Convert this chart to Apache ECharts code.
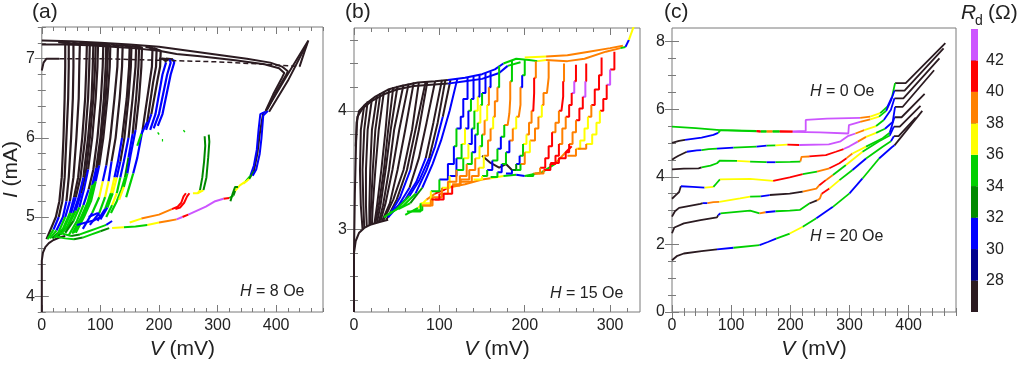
<!DOCTYPE html>
<html><head><meta charset="utf-8">
<script src="https://cdn.jsdelivr.net/npm/echarts@6/dist/echarts.min.js"></script>
<style>html,body{margin:0;padding:0;background:#fff}#c{width:1024px;height:367px}</style>
</head><body><div id="c"></div><script>
// ---------- colour scale (R_d in ohm) ----------
const rdEdges = [26,28,30,32,34,36,38,40,42,44];
const rdColors = ['#2b1b21','#00008f','#0000ff','#008a00','#00d000','#ffff00','#ff8000','#ff0000','#cc55ff'];
const rdTicks = [28,30,32,34,36,38,40,42];

// ---------- tick labels ----------
const aXLabels = [0,100,200,300,400];
const aYLabels = [4,5,6,7];
const bXLabels = [0,100,200,300];
const bYLabels = [3,4];
const cXLabels = [0,100,200,300,400];
const cYLabels = [0,2,4,6,8];

// ---------- panel (a) H = 8 Oe : [V mV, I mA, Rd ohm] ----------
const aBase = [[0,3.8,27],[0,4.45,27],[2,4.55,27],[6,4.62,27],[12,4.67,27],[20,4.71,27],[30,4.74,27],[40,4.76,27]];
const aTop1 = [[0,7.23,27],[50,7.22,27],[100,7.2,27],[150,7.18,27],[200,7.15,27],[250,7.1,27],[300,7.05,27],[350,7.0,27],[390,6.95,27],[410,6.9,27],[420,6.84,27],[416,6.78,27],[400,6.58,27],[385,6.36,27]];
const aTop2 = [[0,7.18,27],[40,7.18,27],[80,7.17,27],[120,7.15,27],[160,7.13,27],[200,7.1,27],[230,7.06,27],[270,7.03,27],[330,6.98,27],[380,6.93,27],[405,6.88,27],[414,6.82,27],[410,6.76,27],[395,6.55,27],[382,6.34,27]];
const aHook = [[0,6.85,27],[3,6.95,27],[8,7.0,27],[30,7.0,27]];
const aDash = [[30,7.0],[100,7.0],[200,6.98],[300,6.96],[380,6.93],[440,6.9]];
const aTip1 = [[382,6.33,27],[418,6.78,27],[455,7.23,27],[448,7.08,27],[440,6.9,27]];
const aTip2 = [[388,6.33,27],[420,6.72,27],[452,7.18,27]];
const aR1 = [[382,6.33,31],[373,6.3,31],[370,6.1,31],[367,5.85,31],[362,5.65,31],[356,5.52,35],[348,5.45,37],[338,5.4,37],[330,5.33,33],[327,5.27,35],[320,5.24,41],[310,5.23,43],[296,5.2,43],[280,5.13,43],[265,5.08,43],[250,5.03,41],[240,5.0,43],[230,4.97,39],[215,4.95,39],[200,4.93,37],[180,4.9,35],[160,4.88,35],[140,4.87,37],[120,4.86,35]];
const aR2 = [[378,6.32,27],[372,6.05,27],[368,5.8,27],[362,5.58,33],[354,5.48,37],[344,5.42,37]];
const aR3 = [[386,6.34,31],[378,6.28,31],[375,6.0,31],[372,5.8,31],[366,5.6,31],[360,5.52,35]];
const aR4 = [[322,5.2,33],[326,5.3,33],[330,5.38,33],[335,5.38,35]];
const aRed1 = [[150,4.93,37],[170,4.98,39],[200,5.03,39],[222,5.1,41],[232,5.13,41],[238,5.18,41],[242,5.26,41],[246,5.3,39]];
const aRed2 = [[228,5.1,41],[236,5.12,41],[243,5.18,41],[248,5.26,41],[252,5.3,39]];
const aGreen1 = [[258,5.3,37],[266,5.3,37],[270,5.34,33],[274,5.5,33],[277,5.7,33],[279,5.9,33],[278,6.02,33]];
const aGreen2 = [[266,5.3,37],[276,5.34,33],[281,5.5,33],[284,5.75,33],[286,5.95,33],[285,6.04,33]];
const aDots = [[[198,6.05,35],[200,6.06,35]],[[242,6.08,35],[244,6.09,35]],[[205,5.97,35],[207,5.97,35]]];
const aFan1 = [[25,4.75,35],[40,4.73,35],[55,4.72,33],[70,4.74,35],[85,4.78,35],[100,4.82,33],[115,4.86,35]];
const aFan2 = [[30,4.8,35],[50,4.76,33],[65,4.78,35],[80,4.82,35],[95,4.86,35],[110,4.9,31],[120,4.95,35]];
const aFan3 = [[60,4.9,31],[75,4.93,31],[90,4.96,31],[100,5.0,31],[95,5.05,31],[80,5.0,35]];
const aSteep = [
 [[28,7.21,27],[40,7.2,27],[40,6.9,27],[39,6.5,27],[37,6.0,27],[34,5.5,27],[30,5.2,27],[24,5.0,27],[16,4.86,27],[8,4.72,27]],
 [[34,7.21,27],[46,7.2,27],[46,6.9,27],[45,6.5,27],[42,6.0,27],[39,5.5,27],[35,5.2,27],[29,5.0,31],[20,4.84,35],[10,4.72,27]],
 [[42,7.2,27],[54,7.19,27],[54,6.9,27],[53,6.5,27],[50,6.0,27],[46,5.5,27],[42,5.2,31],[36,5.0,31],[25,4.83,35],[14,4.73,27]],
 [[52,7.2,27],[65,7.19,27],[64,6.9,27],[63,6.5,27],[59,6.0,27],[54,5.5,27],[48,5.2,31],[40,5.0,35],[28,4.8,33],[18,4.73,27]],
 [[64,7.2,27],[77,7.19,27],[76,6.9,27],[74,6.5,27],[69,6.0,27],[62,5.5,27],[55,5.25,31],[48,5.05,35],[36,4.85,35],[22,4.74,27]],
 [[70,7.2,27],[82,7.19,27],[81,6.9,27],[79,6.5,27],[74,6.0,27],[66,5.5,27],[58,5.25,31],[50,5.05,35],[38,4.86,35],[25,4.75,27]],
 [[75,7.2,27],[88,7.18,27],[87,6.9,27],[85,6.5,27],[79,6.0,27],[71,5.5,31],[63,5.25,31],[54,5.05,35],[42,4.86,33],[28,4.76,31]],
 [[80,7.19,27],[92,7.18,27],[91,6.9,27],[88,6.5,27],[82,6.0,27],[75,5.55,27],[67,5.3,31],[58,5.08,35],[46,4.9,35],[32,4.78,31]],
 [[84,7.19,27],[96,7.18,27],[95,6.9,27],[92,6.5,27],[86,6.0,27],[79,5.6,31],[72,5.35,31],[64,5.12,35],[54,4.95,33],[40,4.8,35]],
 [[92,7.19,27],[105,7.18,27],[104,6.9,27],[101,6.5,27],[95,6.0,27],[88,5.6,27],[80,5.35,31],[71,5.15,35],[60,4.95,35],[46,4.77,35]],
 [[98,7.19,27],[110,7.17,27],[109,6.9,27],[106,6.5,27],[100,6.0,27],[93,5.62,31],[86,5.4,35],[78,5.18,35],[66,4.98,35],[52,4.79,35]],
 [[100,7.19,27],[113,7.17,27],[112,6.9,27],[109,6.5,27],[102,6.0,27],[95,5.62,31],[89,5.42,35],[81,5.2,35],[69,5.0,35],[55,4.8,35]],
 [[105,7.18,27],[117,7.17,27],[116,6.9,27],[112,6.5,27],[105,6.0,27],[98,5.65,31],[92,5.45,35],[84,5.2,35],[72,5.0,35],[58,4.8,35]],
 [[118,7.18,27],[130,7.16,27],[129,6.9,27],[124,6.5,27],[117,6.0,27],[110,5.65,31],[104,5.45,37],[98,5.25,35],[86,5.05,31],[70,4.85,35]],
 [[126,7.17,27],[138,7.16,27],[137,6.9,27],[133,6.5,27],[126,6.0,27],[119,5.7,31],[114,5.45,37],[108,5.25,35],[98,5.05,31],[82,4.9,35]],
 [[138,7.17,27],[150,7.15,27],[149,6.9,27],[145,6.5,27],[137,6.0,31],[130,5.7,31],[124,5.5,37],[118,5.3,35],[108,5.1,31],[95,4.95,35]],
 [[140,7.17,27],[153,7.15,27],[152,6.9,27],[148,6.5,27],[141,6.0,27],[134,5.7,31],[128,5.5,37],[121,5.3,35],[112,5.12,31],[100,4.97,35]],
 [[149,7.16,27],[161,7.15,27],[160,6.9,27],[155,6.5,27],[148,6.0,31],[140,5.7,31],[134,5.5,35],[128,5.3,37],[120,5.15,35],[110,5.0,31]],
 [[154,7.16,27],[166,7.14,27],[165,6.9,27],[161,6.5,27],[155,6.05,31],[148,5.75,33],[142,5.5,35],[136,5.35,35],[128,5.2,35],[118,5.05,33]],
 [[160,7.16,27],[171,7.14,27],[170,6.9,27],[166,6.5,27],[160,6.1,31],[152,5.8,31],[146,5.55,35],[140,5.38,37],[132,5.22,35]],
 [[177,7.15,27],[189,7.13,27],[188,6.9,27],[182,6.6,27],[172,6.1,31],[163,5.75,31],[156,5.55,35],[150,5.4,35],[144,5.25,33]],
 [[184,7.14,27],[196,7.12,27],[195,6.9,27],[190,6.7,27],[180,6.2,31],[170,6.05,35],[163,5.9,35]],
 [[191,7.13,27],[203,7.1,27],[202,6.9,27],[198,6.75,27],[187,6.3,31],[178,6.1,35]],
 [[200,7.0,27],[210,6.99,27],[212,6.95,31],[206,6.8,31],[194,6.3,31],[185,6.1,35]],
 [[205,7.0,27],[218,6.99,31],[220,6.95,31],[214,6.8,31],[200,6.3,31],[191,6.12,35]],
 [[212,7.0,27],[224,6.99,31],[226,6.95,31],[220,6.8,31],[206,6.3,31],[198,6.15,35]]
];

// ---------- panel (b) H = 15 Oe ----------
const bBase = [[0,2.3,27],[0,2.8,27],[2,2.9,27],[6,2.97,27],[12,3.01,27],[20,3.04,27],[30,3.06,27],[40,3.08,27]];
const bTop1 = [[0,2.8,27],[1,3.3,27],[2,3.6,27],[3,3.9,27],[6,4.0,27],[14,4.06,27],[25,4.12,27],[40,4.18,27],[55,4.21,27],[75,4.24,27],[95,4.25,27],[110,4.26,31],[130,4.28,31],[150,4.31,31],[165,4.35,31],[175,4.4,35],[190,4.44,35],[205,4.43,35],[215,4.42,37],[225,4.43,39],[250,4.42,39],[270,4.44,39],[295,4.5,39],[312,4.53,35],[318,4.54,31],[322,4.6,37],[328,4.72,37]];
const bTop2 = [[2,3.7,27],[4,3.95,27],[10,4.02,27],[20,4.08,27],[35,4.14,27],[50,4.18,27],[70,4.21,27],[90,4.22,27],[110,4.23,31],[130,4.25,31],[150,4.27,31],[170,4.32,31],[180,4.38,35],[195,4.41,35]];
const bTopOrange = [[200,4.45,37],[225,4.46,39],[250,4.47,39],[275,4.5,39],[300,4.53,39],[315,4.55,35]];
const bSteep = [
 [[12,4.05,27],[8,3.84,27],[7,3.5,27],[8,3.2,27],[10,3.0,27]],
 [[16,4.08,27],[12,3.84,27],[10,3.5,27],[11,3.2,27],[12,3.01,27]],
 [[21,4.1,27],[16,3.84,27],[14,3.5,27],[14,3.2,27],[15,3.02,27]],
 [[27,4.13,27],[21,3.84,27],[19,3.5,27],[18,3.2,27],[18,3.03,27]],
 [[31,4.15,27],[25,3.84,27],[22,3.5,27],[20,3.2,27],[19,3.04,27]],
 [[35,4.16,27],[29,3.84,27],[25,3.5,27],[22,3.2,27],[21,3.04,27]],
 [[41,4.18,27],[37,3.84,27],[32,3.5,27],[27,3.2,27],[24,3.05,27]],
 [[46,4.2,27],[40,3.84,27],[35,3.5,27],[29,3.2,27],[25,3.05,27]],
 [[51,4.21,27],[43,3.84,27],[37,3.5,27],[31,3.2,27],[27,3.06,27]],
 [[58,4.22,27],[47,3.84,27],[41,3.5,27],[34,3.2,27],[29,3.06,27]],
 [[64,4.23,27],[53,3.84,27],[45,3.5,27],[37,3.22,27],[31,3.07,27]],
 [[70,4.24,27],[60,3.84,27],[51,3.5,27],[42,3.22,27],[33,3.07,27]],
 [[76,4.24,27],[68,3.84,27],[58,3.5,27],[46,3.25,27],[35,3.08,27]],
 [[84,4.25,27],[72,3.84,27],[62,3.5,27],[50,3.25,27],[38,3.08,27]],
 [[86,4.25,27],[76,3.84,27],[66,3.5,31],[54,3.27,31],[40,3.1,27]],
 [[95,4.25,27],[85,3.9,27],[76,3.6,27],[65,3.35,31],[52,3.2,31],[40,3.1,27]],
 [[103,4.26,27],[93,3.9,27],[84,3.6,31],[73,3.4,31],[60,3.25,31],[45,3.15,35],[35,3.1,27]],
 [[107,4.26,27],[98,3.9,27],[88,3.6,31],[77,3.42,31],[65,3.28,35],[50,3.17,35],[40,3.12,35]],
 [[113,4.26,27],[104,3.95,31],[95,3.7,31],[85,3.5,31],[72,3.3,35],[58,3.2,35],[46,3.15,35]],
 [[121,4.27,31],[112,4.0,31],[102,3.75,31],[92,3.55,31],[80,3.35,33],[66,3.22,35],[52,3.17,35]]
];
const bStairs = [
 [[133,4.28,31],[128,4.1,31],[125,3.95,31],[120,3.85,35],[117,3.7,31],[110,3.55,31],[100,3.42,35],[90,3.32,37],[78,3.22,35],[62,3.15,35]],
 [[140,4.29,31],[137,4.1,35],[134,4.0,31],[130,3.85,37],[126,3.72,35],[120,3.6,31],[112,3.45,37],[103,3.35,39],[92,3.27,39],[80,3.2,35],[70,3.16,35]],
 [[147,4.3,31],[145,4.12,37],[141,4.0,35],[138,3.85,31],[134,3.72,37],[128,3.6,35],[120,3.5,39],[110,3.4,39],[100,3.3,41],[90,3.25,39],[80,3.2,37]],
 [[154,4.32,31],[150,4.15,35],[148,4.05,37],[145,3.9,35],[142,3.8,31],[138,3.65,35],[132,3.55,39],[124,3.45,39],[115,3.37,41],[105,3.3,41],[95,3.25,39]],
 [[160,4.33,31],[158,4.2,39],[156,4.05,37],[153,3.92,39],[150,3.8,35],[147,3.7,37],[142,3.6,39],[135,3.5,39],[125,3.42,39],[115,3.38,39]],
 [[170,4.38,35],[168,4.2,39],[165,4.08,39],[163,3.95,37],[160,3.85,39],[157,3.75,39],[152,3.62,37],[146,3.52,39],[138,3.45,39],[125,3.4,39]],
 [[185,4.43,35],[183,4.25,39],[182,4.1,39],[180,3.98,39],[176,3.88,35],[172,3.78,31],[168,3.68,35],[162,3.58,31],[156,3.5,35],[150,3.45,37],[140,3.42,39]],
 [[200,4.43,35],[197,4.3,31],[195,4.2,39],[193,4.05,39],[190,3.95,37],[186,3.85,39],[182,3.75,31],[178,3.65,35],[173,3.55,31],[168,3.48,35],[160,3.44,37]],
 [[213,4.42,39],[211,4.28,41],[210,4.15,41],[208,4.0,39],[205,3.9,39],[202,3.8,37],[198,3.72,35],[194,3.62,31],[190,3.55,33],[185,3.5,31],[178,3.47,35]],
 [[228,4.42,39],[226,4.28,39],[222,4.15,39],[220,4.05,37],[216,3.95,39],[212,3.85,39],[206,3.75,37],[200,3.65,39],[195,3.55,35],[190,3.5,33]],
 [[246,4.4,39],[245,4.25,41],[243,4.12,41],[240,4.0,39],[236,3.9,39],[232,3.82,41],[228,3.7,41],[224,3.6,41],[218,3.52,39],[210,3.47,35],[202,3.45,31]],
 [[260,4.39,41],[258,4.25,43],[255,4.15,41],[252,4.05,41],[248,3.95,39],[244,3.85,39],[240,3.72,41],[236,3.62,41],[230,3.55,41],[222,3.5,39],[212,3.47,35]],
 [[272,4.4,41],[271,4.25,43],[268,4.12,41],[264,4.02,41],[260,3.92,39],[256,3.82,39],[252,3.72,41],[248,3.65,41],[240,3.6,41],[230,3.56,41]],
 [[290,4.45,41],[287,4.3,41],[282,4.18,41],[278,4.05,39],[274,3.95,37],[270,3.85,37],[265,3.75,37],[260,3.68,39],[250,3.62,41]],
 [[305,4.5,41],[300,4.35,43],[296,4.22,41],[292,4.1,41],[288,4.0,37],[284,3.9,37],[279,3.8,37],[272,3.72,39],[262,3.68,41]]
];
const bEnvelope = [[60,3.12,35],[75,3.18,37],[85,3.25,39],[95,3.3,41],[105,3.33,41],[110,3.35,39],[130,3.38,39],[150,3.42,39],[160,3.43,37],[175,3.45,35],[190,3.46,31],[200,3.45,35],[220,3.48,35],[235,3.55,39],[248,3.65,41],[255,3.7,41]];
const bBlack = [[150,3.62,27],[160,3.56,27],[170,3.52,27],[178,3.55,27],[185,3.5,27]];

// ---------- panel (c) H = 0 ... 20 Oe ----------
const cCurves = [
 [[0,5.48,35],[40,5.44,35],[81,5.38,35],[143,5.36,41],[150,5.35,35],[160,5.35,39],[170,5.35,35],[182,5.35,41],[204,5.34,43],[226,5.36,43],[226,5.68,43],[262,5.72,43],[318,5.74,39],[335,5.78,37],[352,5.88,35],[364,6.07,31],[372,6.37,35],[377,6.77,27],[395,6.77,27],[462,7.95,27]],
 [[0,5.0,27],[12,5.06,27],[22,5.09,31],[50,5.16,31],[70,5.24,31],[78,5.3,35],[82,5.38,35],[143,5.34,41],[150,5.33,35],[160,5.33,39],[170,5.33,35],[182,5.33,41],[204,5.33,43],[250,5.31,43],[298,5.28,43],[299,5.53,43],[318,5.62,39],[335,5.7,37],[350,5.78,35],[362,5.95,31],[370,6.25,31],[376,6.55,27],[393,6.55,27],[459,7.8,27]],
 [[0,4.5,27],[5,4.56,27],[11,4.62,27],[25,4.74,31],[42,4.78,31],[50,4.79,35],[62,4.82,35],[76,4.83,31],[104,4.86,35],[143,4.89,31],[160,4.92,35],[175,4.93,37],[195,4.95,41],[215,4.94,43],[265,4.96,43],[285,5.05,43],[297,5.2,43],[310,5.28,39],[325,5.38,37],[345,5.5,35],[358,5.68,31],[370,5.98,31],[376,6.32,27],[391,6.32,27],[452,7.5,27]],
 [[0,4.22,27],[20,4.24,27],[45,4.25,27],[50,4.28,35],[65,4.33,35],[76,4.4,35],[81,4.48,35],[110,4.47,37],[132,4.45,35],[160,4.43,31],[175,4.43,35],[200,4.44,35],[217,4.45,39],[219,4.59,39],[232,4.6,41],[260,4.64,41],[277,4.74,41],[290,4.82,43],[300,4.9,43],[314,5.04,39],[328,5.18,37],[345,5.3,35],[360,5.42,31],[373,5.62,31],[377,6.07,27],[390,6.07,27],[443,7.15,27]],
 [[0,3.35,27],[6,3.45,27],[12,3.55,27],[15,3.72,31],[35,3.7,31],[55,3.68,37],[70,3.7,35],[75,3.8,35],[81,3.92,37],[132,3.94,37],[171,3.88,41],[199,3.98,41],[221,4.08,35],[245,4.15,39],[266,4.25,41],[283,4.4,41],[295,4.55,39],[305,4.69,37],[328,4.89,35],[356,5.14,35],[368,5.3,31],[376,5.76,27],[388,5.76,27],[427,6.45,27]],
 [[0,2.82,27],[5,2.98,27],[12,3.08,27],[48,3.2,27],[52,3.22,31],[60,3.22,39],[70,3.25,39],[80,3.26,37],[115,3.36,37],[132,3.41,35],[150,3.42,31],[165,3.46,27],[199,3.5,27],[221,3.56,39],[244,3.65,39],[249,3.75,41],[260,3.9,39],[272,4.05,35],[294,4.35,37],[322,4.74,35],[350,5.05,35],[368,5.22,31],[375,5.48,27],[385,5.48,27],[420,6.1,27]],
 [[0,2.33,27],[4,2.5,27],[20,2.62,27],[48,2.72,27],[76,2.8,27],[78,2.86,31],[82,2.92,35],[132,3.0,35],[148,2.92,39],[158,2.95,31],[175,2.98,35],[199,3.0,35],[216,3.02,35],[232,3.21,27],[245,3.3,39],[250,3.36,39],[253,3.5,41],[266,3.65,37],[283,3.9,35],[305,4.2,31],[328,4.54,35],[356,4.89,35],[370,5.05,31],[375,5.2,27],[383,5.2,27],[412,5.75,27]],
 [[0,1.53,27],[8,1.65,27],[20,1.73,27],[50,1.8,27],[76,1.85,31],[104,1.9,35],[148,1.98,31],[162,2.07,31],[176,2.17,35],[199,2.32,37],[221,2.52,35],[244,2.77,31],[272,3.11,35],[300,3.51,31],[322,3.95,35],[350,4.54,31],[372,4.88,31],[376,4.93,27],[423,5.95,27]]
];

// ---------- build ----------
const FONT = 'Liberation Sans, Arial, sans-serif';
const TXT = '#222';
const AX = '#7a7a7a';
function steps(a, b, s){ const r=[]; for(let v=a; v<=b+1e-9; v+=s) r.push(Math.round(v*1000)/1000); return r; }
function colorIdx(rd){ for(let i=0;i<rdColors.length;i++){ if(rd < rdEdges[i+1]) return i; } return rdColors.length-1; }

const xAxes=[], yAxes=[], grids=[];
function addPanel(g, xr, yr, xMaj, xMin, yMaj, yMin, xName, yName){
  grids.push(Object.assign({show:true, borderColor:AX, borderWidth:1, backgroundColor:'transparent'}, g));
  const gi = grids.length-1;
  const base = {type:'value', gridIndex:gi, axisLine:{show:false}, splitLine:{show:false}, scale:false};
  const lab = {fontSize:16, color:TXT, fontFamily:FONT};
  const tk = (vals,len)=>({show:true, inside:true, length:len, customValues:vals, lineStyle:{color:AX, width:1}});
  const nameStyle = {fontSize:21, color:TXT, fontFamily:FONT, rich:{i:{fontStyle:'italic', fontSize:21, fontFamily:FONT, color:TXT}}};
  xAxes.push(Object.assign({}, base, {position:'bottom', min:xr[0], max:xr[1], axisTick:tk(xMaj,7), axisLabel:Object.assign({show:true, customValues:xMaj, margin:6}, lab), name:xName, nameLocation:'middle', nameGap:22, nameTextStyle:nameStyle}));
  xAxes.push(Object.assign({}, base, {position:'top', min:xr[0], max:xr[1], axisTick:tk(xMaj,7), axisLabel:{show:false}}));
  xAxes.push(Object.assign({}, base, {position:'bottom', min:xr[0], max:xr[1], axisTick:tk(xMin,4), axisLabel:{show:false}}));
  xAxes.push(Object.assign({}, base, {position:'top', min:xr[0], max:xr[1], axisTick:tk(xMin,4), axisLabel:{show:false}}));
  const yl = {position:'left', min:yr[0], max:yr[1], axisTick:tk(yMaj,7), axisLabel:Object.assign({show:true, customValues:yMaj, margin:7}, lab)};
  if (yName) Object.assign(yl, {name:yName, nameLocation:'middle', nameGap:19, nameRotate:90, nameTextStyle:nameStyle});
  yAxes.push(Object.assign({}, base, yl));
  yAxes.push(Object.assign({}, base, {position:'right', min:yr[0], max:yr[1], axisTick:tk(yMaj,7), axisLabel:{show:false}}));
  yAxes.push(Object.assign({}, base, {position:'left', min:yr[0], max:yr[1], axisTick:tk(yMin,4), axisLabel:{show:false}}));
  yAxes.push(Object.assign({}, base, {position:'right', min:yr[0], max:yr[1], axisTick:tk(yMin,4), axisLabel:{show:false}}));
  return xAxes.length-4;
}
const pA = addPanel({left:37, top:27, width:286, height:285}, [0,480], [3.8,7.4], aXLabels, steps(0,480,20), aYLabels, steps(3.8,7.4,0.2), '{i|V} (mV)', '{i|I} (mA)');
const pB = addPanel({left:354, top:28, width:286, height:284}, [0,335], [2.3,4.7], bXLabels, steps(0,335,20), bYLabels, steps(2.4,4.6,0.2), '{i|V} (mV)', null);
const pC = addPanel({left:672, top:28, width:284, height:284}, [0,480], [0,8.4], cXLabels, steps(0,480,20), cYLabels, steps(0,8,0.5), '{i|V} (mV)', null);

// colour bar grid
grids.push({left:971, top:29, width:7, height:283});
const cbG = grids.length-1;
xAxes.push({type:'value', gridIndex:cbG, min:0, max:1, show:false});
yAxes.push({type:'value', gridIndex:cbG, min:rdEdges[0], max:rdEdges[rdEdges.length-1], position:'right',
  axisLine:{show:false}, splitLine:{show:false},
  axisTick:{show:true, inside:false, length:5, customValues:rdTicks, lineStyle:{color:'#555'}},
  axisLabel:{show:true, customValues:rdTicks, margin:8, fontSize:16, color:TXT, fontFamily:FONT}});
const cbAx = xAxes.length-1;

const runs=[];
function addCurve(curve, ax, width, step){
  let start=0;
  for(let k=1;k<curve.length;k++){
    const ci = colorIdx(curve[start][2]);
    const last = k===curve.length-1;
    if(last || colorIdx(curve[k][2])!==ci){
      runs.push({ci, ax, width, step, data:curve.slice(start,k+1).map(q=>[q[0],q[1]])});
      start=k;
    }
  }
}
// panel a
[aBase,aTop1,aTop2,aHook,aTip1,aTip2].forEach(c=>addCurve(c,pA,2,false));
aSteep.forEach(c=>addCurve(c,pA,2.2,false));
[aR1,aR2,aR3,aR4,aRed1,aRed2,aGreen1,aGreen2,aFan1,aFan2,aFan3].forEach(c=>addCurve(c,pA,2,false));
aDots.forEach(c=>addCurve(c,pA,2.5,false));
// panel b
[bBase,bTop1,bTop2].forEach(c=>addCurve(c,pB,2,false));
bSteep.forEach(c=>addCurve(c,pB,2,false));
addCurve(bBlack,pB,2,false);
[bTopOrange,bEnvelope].forEach(c=>addCurve(c,pB,2,false));
bStairs.forEach(c=>addCurve(c,pB,2,'start'));
// panel c
cCurves.forEach(c=>addCurve(c,pC,1.8,false));

runs.sort((r1,r2)=>(r1.ci===0?0:1)-(r2.ci===0?0:1));
const series = runs.map(r=>({type:'line', xAxisIndex:r.ax, yAxisIndex:r.ax, data:r.data, showSymbol:false, symbol:'none',
  step:r.step, silent:true, animation:false, lineStyle:{color:rdColors[r.ci], width:r.width}}));
series.push({type:'line', xAxisIndex:pA, yAxisIndex:pA, data:aDash, showSymbol:false, symbol:'none', silent:true, animation:false,
  lineStyle:{color:rdColors[0], width:1.5, type:[5,3]}});
series.push({type:'custom', xAxisIndex:cbAx, yAxisIndex:cbAx, silent:true, animation:false,
  data: rdColors.map((c,i)=>[0, rdEdges[i], rdEdges[i+1], i]),
  renderItem:function(params, api){
    const p0 = api.coord([0, api.value(1)]);
    const p1 = api.coord([1, api.value(2)]);
    return {type:'rect', shape:{x:p0[0], y:p1[1], width:p1[0]-p0[0], height:p0[1]-p1[1]}, style:{fill:rdColors[api.value(3)]}};
  }});

function txt(x,y,text,size,extra){ return {type:'text', x:x, y:y, silent:true, style:Object.assign({text:text, fontSize:size, fontFamily:FONT, fill:TXT, align:'left', verticalAlign:'middle',
  rich:{i:{fontStyle:'italic', fontSize:size, fontFamily:FONT, fill:TXT}}}, extra||{})}; }
const graphic = [
  txt(32,12,'(a)',21), txt(345,12,'(b)',21), txt(664,12,'(c)',21),
  txt(240,292,'{i|H} = 8 Oe',16), txt(550,294,'{i|H} = 15 Oe',16),
  txt(810,92,'{i|H} = 0 Oe',16), txt(810,237,'{i|H} = 20 Oe',16),
  txt(961,13,'R',21,{fontStyle:'italic'}), txt(975,21,'d',14), txt(988,13,'(Ω)',21)
];

const chart = echarts.init(document.getElementById('c'), null, {renderer:'canvas'});
chart.setOption({animation:false, backgroundColor:'#fff', grid:grids, xAxis:xAxes, yAxis:yAxes, series:series, graphic:graphic});
</script></body></html>
